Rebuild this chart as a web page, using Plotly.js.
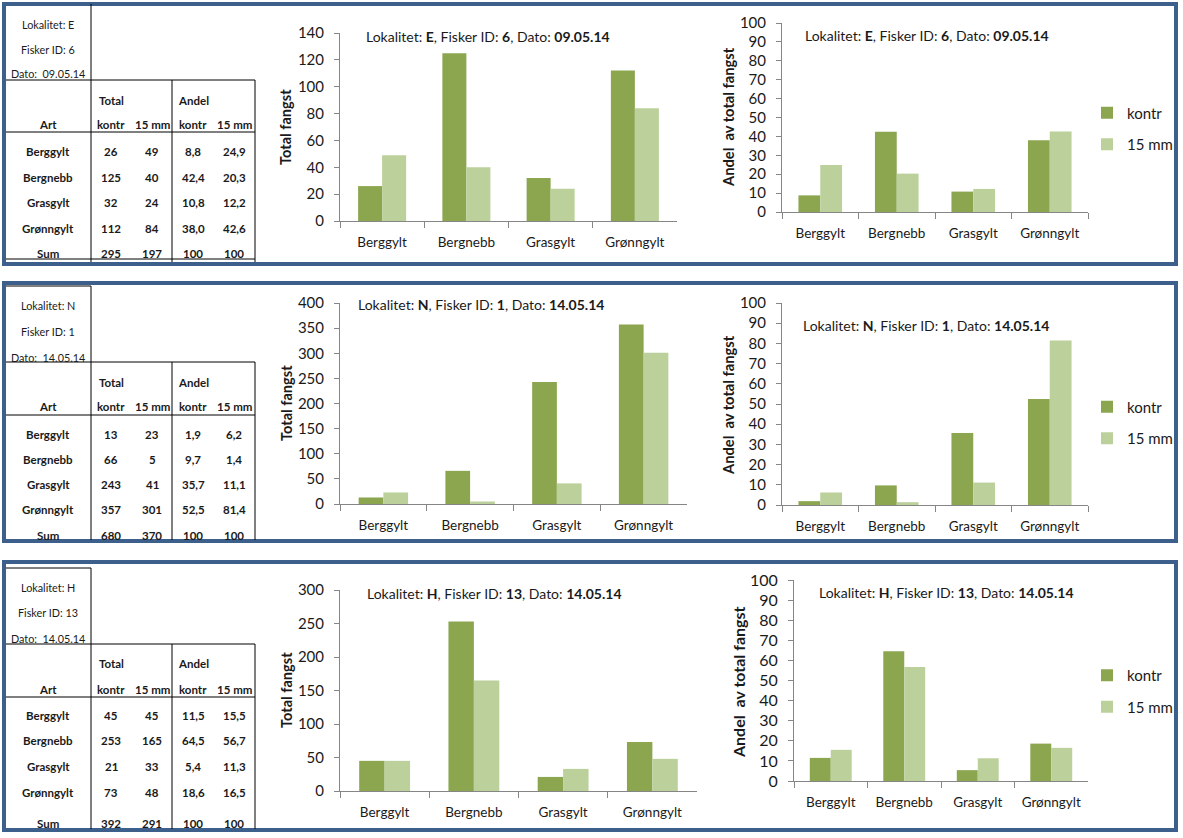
<!DOCTYPE html>
<html><head><meta charset="utf-8">
<script src="https://cdn.plot.ly/plotly-3.0.1.min.js"></script>
<style>html,body{margin:0;padding:0;background:#fff}#chart{width:1183px;height:838px}</style>
</head><body><div id="chart"></div>
<script>
// ---------- DATA ----------
const species = ['Berggylt', 'Bergnebb', 'Grasgylt', 'Grønngylt'];
const seriesNames = ['kontr', '15 mm'];

// Lokalitet E
const infoE = {lok: 'E', fisker: '6', dato: '09.05.14'};
const totalKontrE = [26, 125, 32, 112];
const total15E = [49, 40, 24, 84];
const andelKontrE = [8.8, 42.4, 10.8, 38.0];
const andel15E = [24.9, 20.3, 12.2, 42.6];
const sumE = [295, 197, 100, 100];

// Lokalitet N
const infoN = {lok: 'N', fisker: '1', dato: '14.05.14'};
const totalKontrN = [13, 66, 243, 357];
const total15N = [23, 5, 41, 301];
const andelKontrN = [1.9, 9.7, 35.7, 52.5];
const andel15N = [6.2, 1.4, 11.1, 81.4];
const sumN = [680, 370, 100, 100];

// Lokalitet H
const infoH = {lok: 'H', fisker: '13', dato: '14.05.14'};
const totalKontrH = [45, 253, 21, 73];
const total15H = [45, 165, 33, 48];
const andelKontrH = [11.5, 64.5, 5.4, 18.6];
const andel15H = [15.5, 56.7, 11.3, 16.5];
const sumH = [392, 291, 100, 100];

const totalAxisMax = [140, 400, 300];
const totalAxisStep = [20, 50, 50];

// ---------- LAYOUT GEOMETRY ----------
const W = 1183, H = 838;
const X = px => px / W;
const Y = py => 1 - py / H;
const FONT = 'Lato, "Open Sans", sans-serif';
const TXT = '#1a1a1a';
const AXC = '#868686';
const C_KONTR = '#8ba64f';
const C_15 = '#bbd09a';
const BORDER = '#3d5f8c';

const panels = [
  {info: infoE, tk: totalKontrE, t15: total15E, ak: andelKontrE, a15: andel15E, sum: sumE,
   box: [4, 4, 1176, 264],
   infoTop: null, vTop: 4, infoY: [24, 49, 74], hl1: 80, headY: [100, 125], hl2: 132,
   rowY: [151, 177, 202, 228, 254], bottomLine: 259, vBottom: 262,
   A: {x: [340, 677], y: [33, 221], title: [364, 36], ytitle: [286, 127]},
   B: {x: [782, 1088], y: [23, 212], title: [803, 35], ytitle: [728, 117], leg: 128.5, ytsize: 15, ytt: 14.7}},
  {info: infoN, tk: totalKontrN, t15: total15N, ak: andelKontrN, a15: andel15N, sum: sumN,
   box: [4, 283, 1176, 541],
   infoTop: 286, vTop: 286, infoY: [306, 331, 357], hl1: 362, headY: [382, 407], hl2: 415,
   rowY: [434, 459, 484, 509, 535], bottomLine: null, vBottom: 540,
   A: {x: [340, 687], y: [303, 504], title: [356, 305], ytitle: [286, 403]},
   B: {x: [782, 1088], y: [303, 505], title: [801, 325], ytitle: [728, 405], leg: 422.5, ytsize: 15, ytt: 14.7}},
  {info: infoH, tk: totalKontrH, t15: total15H, ak: andelKontrH, a15: andel15H, sum: sumH,
   box: [4, 562, 1176, 830],
   infoTop: 568, vTop: 568, infoY: [587, 612, 638], hl1: 644, headY: [663, 689], hl2: 697,
   rowY: [715, 740, 766, 792, 823], bottomLine: null, vBottom: 829,
   A: {x: [340, 697], y: [590, 791], title: [365, 593], ytitle: [286, 690]},
   B: {x: [794, 1088], y: [580, 781], title: [817, 592], ytitle: [738, 682], leg: 691, ytsize: 16, ytt: 16}}
];

const colX = [48, 111, 152, 193, 234];
const fmt = v => v.toFixed(1).replace('.', ',');

const layout = {
  width: W, height: H,
  margin: {l: 0, r: 0, t: 0, b: 0},
  paper_bgcolor: '#fff', plot_bgcolor: 'rgba(0,0,0,0)',
  showlegend: true,
  barmode: 'group', bargap: 0.43, bargroupgap: 0,
  hovermode: false,
  font: {family: FONT, color: TXT},
  shapes: [], annotations: []
};
const data = [];

function line(x0, y0, x1, y1, color, width) {
  layout.shapes.push({type: 'line', xref: 'paper', yref: 'paper',
    x0: X(x0), y0: Y(y0), x1: X(x1), y1: Y(y1), line: {color: color || '#000', width: width || 1}});
}
function text(x, y, t, size, opts) {
  layout.annotations.push(Object.assign({xref: 'paper', yref: 'paper', x: X(x), y: Y(y),
    text: t, showarrow: false, xanchor: 'center', yanchor: 'middle',
    font: {family: FONT, size: size, color: TXT}}, opts || {}));
}

function xAxis(dom, anchor) {
  return {domain: [X(dom[0]), X(dom[1])], anchor: anchor, type: 'category',
    range: [-0.5, 3.5], showline: true, linecolor: AXC, linewidth: 1,
    ticks: 'outside', tickson: 'boundaries', ticklen: 6, tickcolor: AXC, tickwidth: 1,
    showgrid: false, zeroline: false, ticklabelstandoff: 9,
    tickfont: {family: FONT, size: 13.5, color: TXT}, fixedrange: true};
}
function yAxis(dom, anchor, max, step, fs) {
  return {domain: [Y(dom[1]), Y(dom[0])], anchor: anchor, range: [0, max], dtick: step, tick0: 0,
    showline: true, linecolor: AXC, linewidth: 1, ticks: 'outside', ticklen: 5, tickcolor: AXC,
    showgrid: false, zeroline: false, ticklabelstandoff: 7,
    tickfont: {family: FONT, size: fs || 15, color: TXT}, fixedrange: true};
}

panels.forEach((p, i) => {
  // panel border
  layout.shapes.push({type: 'rect', xref: 'paper', yref: 'paper',
    x0: X(p.box[0]), y0: Y(p.box[1]), x1: X(p.box[2]), y1: Y(p.box[3]),
    line: {color: BORDER, width: 4}});

  // ----- table -----
  if (p.infoTop !== null) line(6, p.infoTop, 91, p.infoTop);
  line(91, p.vTop, 91, p.vBottom);
  line(6, p.hl1, 255, p.hl1);
  line(6, p.hl2, 255, p.hl2);
  line(172, p.hl1, 172, p.vBottom);
  line(255, p.hl1, 255, p.vBottom);
  if (p.bottomLine !== null) line(6, p.bottomLine, 255, p.bottomLine);

  text(48, p.infoY[0], 'Lokalitet: ' + p.info.lok, 10.8);
  text(48, p.infoY[1], 'Fisker ID: ' + p.info.fisker, 10.8);
  text(48, p.infoY[2], 'Dato:  ' + p.info.dato, 10.8);
  const bold = {family: FONT, size: 11.5, color: TXT, weight: 700};
  text(colX[1], p.headY[0], 'Total', 11.5, {font: bold});
  text(colX[3], p.headY[0], 'Andel', 11.5, {font: bold});
  ['Art', 'kontr', '15 mm', 'kontr', '15 mm'].forEach((h, k) => text(colX[k], p.headY[1], h, 11.5, {font: bold}));
  species.forEach((s, r) => {
    const cells = [s, String(p.tk[r]), String(p.t15[r]), fmt(p.ak[r]), fmt(p.a15[r])];
    cells.forEach((c, k) => text(colX[k], p.rowY[r], c, 11.5, {font: bold}));
  });
  ['Sum', String(p.sum[0]), String(p.sum[1]), String(p.sum[2]), String(p.sum[3])]
    .forEach((c, k) => text(colX[k], p.rowY[4], c, 11.5, {font: bold}));

  // ----- charts -----
  const na = 2 * i + 1, nb = 2 * i + 2;
  layout['xaxis' + na] = xAxis(p.A.x, 'y' + na);
  layout['yaxis' + na] = yAxis(p.A.y, 'x' + na, totalAxisMax[i], totalAxisStep[i], 15);
  layout['xaxis' + nb] = xAxis(p.B.x, 'y' + nb);
  layout['yaxis' + nb] = yAxis(p.B.y, 'x' + nb, 100, 10, p.B.ytsize);

  const legName = i === 0 ? 'legend' : 'legend' + (i + 1);
  layout[legName] = {x: X(1087), xanchor: 'left', y: Y(p.B.leg), yanchor: 'middle',
    font: {family: FONT, size: 15, color: TXT}, bgcolor: 'rgba(0,0,0,0)',
    traceorder: 'grouped', tracegroupgap: 9, borderwidth: 0};

  [[p.tk, p.t15], [p.ak, p.a15]].forEach((vals, c) => {
    const ax = c === 0 ? na : nb;
    vals.forEach((v, s) => {
      data.push({type: 'bar', x: species, y: v, name: seriesNames[s],
        xaxis: 'x' + ax, yaxis: 'y' + ax,
        marker: {color: s === 0 ? C_KONTR : C_15, line: {width: 0}},
        showlegend: c === 1, legend: legName, legendgroup: 'p' + i + 's' + s + 'c' + c});
    });
  });

  const ttl = 'Lokalitet: <b>' + p.info.lok + '</b>, Fisker ID: <b>' + p.info.fisker +
    '</b>, Dato: <b>' + p.info.dato + '</b>';
  text(p.A.title[0], p.A.title[1], ttl, 14, {xanchor: 'left'});
  text(p.B.title[0], p.B.title[1], ttl, 14, {xanchor: 'left'});
  text(p.A.ytitle[0], p.A.ytitle[1], '<b>Total fangst</b>', 14.6, {textangle: -90});
  text(p.B.ytitle[0], p.B.ytitle[1], '<b>Andel  av total fangst</b>', p.B.ytt, {textangle: -90});
});

Plotly.newPlot('chart', data, layout, {staticPlot: true, displayModeBar: false});
</script>
</body></html>
